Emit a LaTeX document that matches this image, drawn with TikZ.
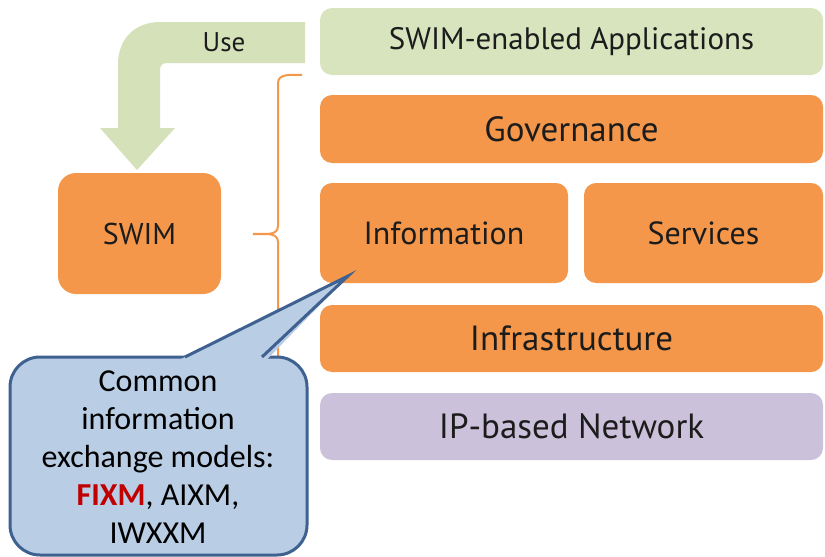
\documentclass[tikz,border=0pt]{standalone}
\usepackage{fontspec}
\setmainfont{PT Sans}
\newfontfamily\calloutfont{Carlito}
\usetikzlibrary{calc}
\usetikzlibrary{positioning}

\definecolor{swimorange}{HTML}{F4974A}
\definecolor{appgreen}{HTML}{D7E4BD}
\definecolor{usegreen}{HTML}{D4E1B9}
\definecolor{netlilac}{HTML}{CCC1DA}
\definecolor{notefill}{HTML}{B9CDE5}
\definecolor{noteline}{HTML}{3E6190}
\definecolor{textdark}{HTML}{1C1C1C}
\definecolor{fixmred}{HTML}{C00000}

\tikzset{
 layer/.style={rounded corners=12pt, fill=swimorange, text=textdark, inner sep=0pt,
   minimum width=503pt, minimum height=67pt, font=\fontsize{35}{40}\selectfont},
 sublayer/.style={layer, minimum height=100pt, font=\fontsize{32}{38}\selectfont},
}

\begin{document}
\begin{tikzpicture}[x=1pt,y=-1pt]
\useasboundingbox (0,0) rectangle (825,557);

% the stack
\node[layer, fill=appgreen, font=\fontsize{31}{38}\selectfont] (apps) at (571.5,41.5) {SWIM-enabled Applications};
\node[layer, minimum height=68pt] (gov) at (571.5,129) {Governance};
\node[sublayer, minimum width=248pt] (info) at (444,233) {Information};
\node[sublayer, minimum width=239pt] (serv) at (703.5,233) {Services};
\node[layer] (infra) at (571.5,338.5) {Infrastructure};
\node[layer, fill=netlilac] (net) at (571.5,426.5) {IP-based Network};

\node[layer, rounded corners=18pt, minimum width=163pt, minimum height=121pt,
  font=\fontsize{30}{36}\selectfont] (swim) at (139.5,233.5) {SWIM};

% bent arrow
\fill[usegreen] (305,22) -- (160,22) .. controls (135,22) and (118,39) .. (118,64)
 -- (118,128) -- (100,128) -- (137,170) -- (175,128) -- (160,128) -- (160,70)
 .. controls (160,66) and (162,63) .. (167,63) -- (305,63) -- cycle;
\node[text=textdark, font=\fontsize{27}{32}\selectfont] (use) at (224,42) {Use};

% brace
\draw[swimorange, line width=2pt] (302,75) to[out=180,in=90] (278,83) -- (278,226)
 to[out=270,in=0] (253,234) to[out=0,in=90] (278,242) -- (278,364) to[out=270,in=180] (302,372);

% callout
\filldraw[fill=notefill, draw=noteline, line width=3pt, rounded corners=30pt]
 (10,357) rectangle (307,555);
\fill[notefill] (180,359.5) -- (348,276) -- (267,359.5) -- cycle;
\draw[noteline, line width=3pt, line join=miter] (185,357) -- (348,276) -- (262,357);
\node[align=center, text=black, font=\calloutfont\fontsize{32}{38}\selectfont] (note) at (158,457)
 {Common\\information\\exchange models:\\\textcolor{fixmred}{\bfseries FIXM}, AIXM,\\IWXXM};
\end{tikzpicture}
\end{document}
